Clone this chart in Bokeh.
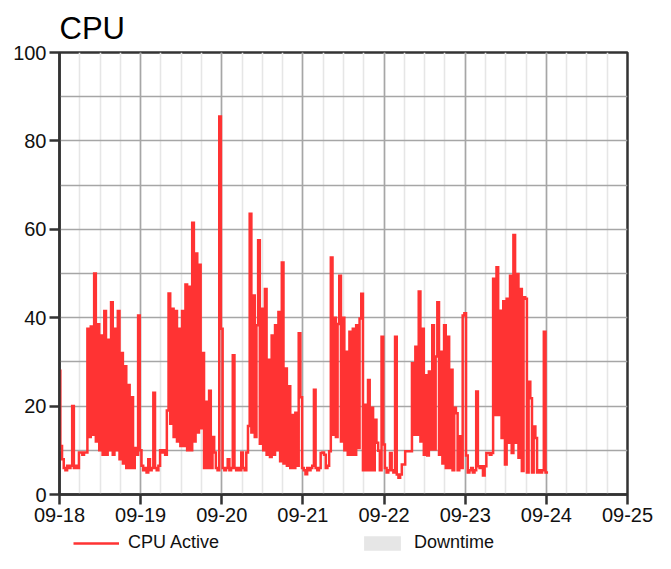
from datetime import datetime, timedelta
from bokeh.plotting import figure
from bokeh.layouts import column
from bokeh.models import (ColumnDataSource, FixedTicker, DatetimeTickFormatter,
                          Legend, LegendItem, Range1d)
from bokeh.embed import file_html
from bokeh.resources import INLINE

# CPU Active (%), one reading every 30 minutes, starting 09-18 00:00
cpu_0918 = [28, 11, 8, 6, 5.5, 6.5, 6, 6.5,
            20, 6, 6.5, 6, 9.5, 9.5, 9, 9.5,
            9.5, 37.5, 13, 38, 13.5, 50, 12, 38.5,
            10, 36, 9, 41.5, 9, 35, 10, 43.5,
            9, 37.5, 10, 41.5, 8, 32, 7, 29,
            6, 24.8, 6, 22, 6, 10.5, 9, 40.5]
cpu_0919 = [10, 6.5, 5.5, 6, 5, 8, 5.5, 6,
            23, 6, 5.5, 6.5, 10, 9.5, 10, 9,
            19, 45.5, 16, 42, 13, 41.5, 12, 37.5,
            11, 41.5, 11, 47.5, 10, 47, 10, 61.5,
            12, 54.5, 14, 52, 15, 32, 6, 21,
            6, 23.5, 6, 13, 9.5, 6, 5.5, 85.5]
cpu_0920 = [37.5, 6, 5.5, 6, 8, 5.5, 6, 31.5,
            6, 5.5, 6, 5.5, 9.5, 6, 5.5, 9.5,
            15.5, 63.5, 14, 45, 13, 38.3, 57.5, 11.5,
            42, 10, 46.5, 9, 30.5, 8.5, 36, 9,
            38.3, 10, 41.3, 7.5, 52.5, 7, 28.5, 6.5,
            24.5, 6, 18, 6, 18.5, 6.5, 36.5, 22]
cpu_0921 = [6, 5.5, 4.6, 6, 5.5, 6, 6.5, 23.7,
            6, 5.5, 6, 9.4, 9.5, 9, 6, 6.5,
            9.8, 53.6, 13.5, 40, 13, 38.6, 49.5, 12,
            40, 10, 32.3, 9, 36.8, 9, 37.5, 9,
            38.3, 10.5, 39.8, 45.4, 5.5, 20.3, 5.5, 25.9,
            5.5, 19.6, 5.5, 16.9, 11.7, 9.9, 5.5, 35.7]
cpu_0922 = [11.3, 6, 5, 5.5, 9.4, 5.5, 5, 35.7,
            4.5, 3.8, 4.5, 6.8, 6.8, 9.8, 9.8, 9.8,
            9.8, 29.7, 13.5, 33.4, 13.5, 45.9, 12, 37.5,
            9, 27, 8.8, 27.8, 10.2, 38.3, 10.2, 31.2,
            43.5, 9, 32.3, 7, 38.3, 6, 35.7, 6,
            28.2, 5.5, 19.6, 18.4, 5.5, 13.2, 6, 40.5]
cpu_0923 = [41, 8.8, 5, 5.5, 6, 5, 5.5, 23.3,
            6.4, 6, 6.4, 4.3, 6.4, 9.4, 9.4, 9,
            9.4, 48.8, 18, 51.4, 18, 41.6, 12.8, 43.7,
            6.8, 44.3, 11.7, 49.5, 9.4, 58.7, 11.7, 49.9,
            8.3, 46.5, 5.3, 44.6, 44.3, 5, 25.5, 21.8,
            5, 15.4, 12.8, 5, 5.5, 5, 5.5, 36.8]
cpu_0924 = [5, 5]

day_labels = ["09-18", "09-19", "09-20", "09-21", "09-22", "09-23", "09-24", "09-25"]
y_ticks = [0, 20, 40, 60, 80, 100]
y_minor = [10, 30, 50, 70, 90]
series_labels = ["CPU Active", "Downtime"]

FONT = "Liberation Sans"
RED = "#ff3333"
GREY_BOX = "#e6e6e6"
EPOCH = datetime(1970, 1, 1)
start = datetime(2023, 9, 18)

def ms(d):
    return (d - EPOCH).total_seconds() * 1000.0

cpu = cpu_0918 + cpu_0919 + cpu_0920 + cpu_0921 + cpu_0922 + cpu_0923 + cpu_0924
times = [ms(start + timedelta(minutes=30 * i)) for i in range(len(cpu))]

day_ms = [ms(start + timedelta(days=i)) for i in range(len(day_labels))]
six_h_ms = [ms(start + timedelta(hours=6 * i)) for i in range(7 * 4 + 1)]

p = figure(width=655, height=532, x_axis_type="datetime",
           output_backend="svg", toolbar_location=None,
           x_range=Range1d(day_ms[0], day_ms[-1]), y_range=Range1d(0, 100),
           min_border_left=59, min_border_right=28,
           min_border_top=52, min_border_bottom=38)

p.background_fill_color = "white"
p.border_fill_color = "white"
p.outline_line_color = "#333333"
p.outline_line_width = 2.5
p.outline_line_alpha = 1.0

p.title.text = "CPU"
p.title.text_font = FONT
p.title.text_font_size = "31px"
p.title.text_font_style = "normal"
p.title.text_color = "#000000"
p.title.align = "left"
p.title.standoff = 14

p.xaxis.ticker = FixedTicker(ticks=day_ms, minor_ticks=six_h_ms)
p.xaxis.formatter = DatetimeTickFormatter(
    days="%m-%d", months="%m-%d", hours="%m-%d", years="%m-%d",
    minutes="%m-%d", seconds="%m-%d", milliseconds="%m-%d", microseconds="%m-%d")
p.yaxis.ticker = FixedTicker(ticks=y_ticks, minor_ticks=y_minor)

for ax in (p.xaxis, p.yaxis):
    ax.axis_line_color = "#333333"
    ax.axis_line_width = 2.5
    ax.major_tick_line_color = "#333333"
    ax.major_tick_line_width = 2.5
    ax.major_tick_in = 0
    ax.major_tick_out = 10
    ax.minor_tick_line_color = None
    ax.major_label_text_font = FONT
    ax.major_label_text_font_size = "20px"
    ax.major_label_text_color = "#111111"
    ax.major_label_standoff = 3

p.xgrid.grid_line_color = "#a6a6a6"
p.xgrid.grid_line_width = 1.6
p.xgrid.minor_grid_line_color = "#e6e6e6"
p.xgrid.minor_grid_line_width = 1.6
p.ygrid.grid_line_color = "#a6a6a6"
p.ygrid.grid_line_width = 1.6
p.ygrid.minor_grid_line_color = "#a6a6a6"
p.ygrid.minor_grid_line_width = 1.6

src = ColumnDataSource(data=dict(t=times, cpu=cpu))
p.step("t", "cpu", source=src, mode="center", line_color=RED,
       line_width=2.5, line_join="miter")

# legend strip below the chart (its keys use the same data, kept out of its view)
lg = figure(width=655, height=21, output_backend="svg", toolbar_location=None,
            x_range=Range1d(0, 655), y_range=Range1d(0, 21),
            min_border=0, min_border_left=0, min_border_right=0,
            min_border_top=0, min_border_bottom=0,
            x_axis_location=None, y_axis_location=None)
lg.grid.visible = False
lg.outline_line_color = None
lg.background_fill_color = "white"
lg.border_fill_color = "white"
cpu_key = lg.line("t", "cpu", source=src, line_color=RED, line_width=2.5)
down_key = lg.quad(left="t", right="t", top="cpu", bottom="cpu", source=src,
                   fill_color=GREY_BOX, line_color=None)

legend = Legend(items=[LegendItem(label=series_labels[0], renderers=[cpu_key]),
                       LegendItem(label=series_labels[1], renderers=[down_key])],
                location=(14, 0), orientation="horizontal",
                glyph_width=46, glyph_height=18, label_standoff=9,
                padding=0, margin=0, spacing=140,
                border_line_color=None, background_fill_alpha=0,
                label_text_font=FONT, label_text_font_size="18px",
                label_text_color="#111111")
lg.add_layout(legend, "center")

layout = column(p, lg, spacing=0)
open("out.html", "w").write(file_html(layout, INLINE))
